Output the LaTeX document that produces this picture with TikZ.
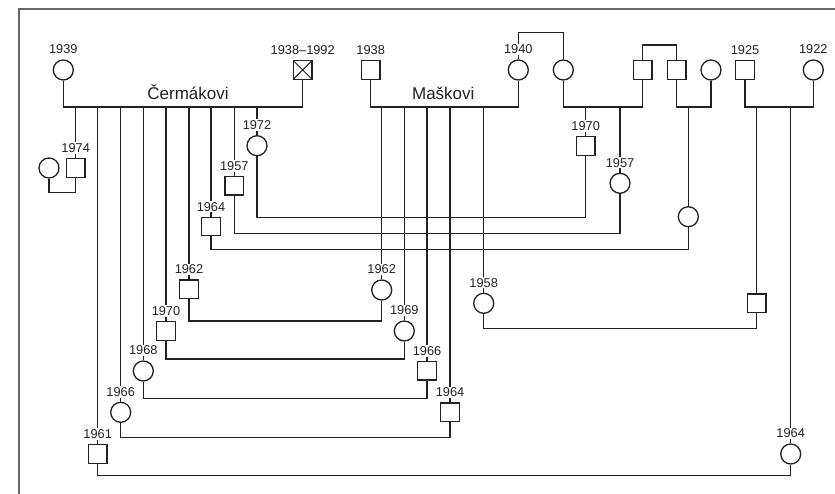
\documentclass[tikz,border=0pt]{standalone}
\usepackage{fontspec}
\setmainfont{Liberation Sans}
\usetikzlibrary{backgrounds}
\definecolor{ink}{HTML}{222222}
\definecolor{framec}{HTML}{666666}
\begin{document}
\begin{tikzpicture}[x=1pt,y=-1pt,line width=1.3pt,
  fem/.style={circle,draw=ink,minimum size=20pt,inner sep=0pt,fill=white},
  mal/.style={rectangle,draw=ink,minimum size=18.5pt,inner sep=0pt,fill=white},
  dead/.style={mal,path picture={\draw[ink,line width=1pt]
      (path picture bounding box.north west) -- (path picture bounding box.south east)
      (path picture bounding box.south west) -- (path picture bounding box.north east);}},
  yr/.style={font=\fontsize{12.8}{14}\selectfont,text=ink,fill=white,inner sep=1.2pt},
  every label/.style={yr}, label distance=3.5pt,
  fam/.style={font=\fontsize{17}{20}\selectfont,text=ink,inner sep=0pt,anchor=base},
  conn/.style={draw=ink,line width=1.3pt},
  framel/.style={draw=framec,line width=1.8pt}]
\useasboundingbox (0,0) rectangle (835,494);
\draw[framel] (19,494) -- (19,9) -- (835,9);

% level coordinates
\coordinate (m0) at (0,107);
\coordinate (t1) at (0,32.7);
\coordinate (t2) at (0,45);
\coordinate (k1974) at (0,192.7);
\coordinate (k1) at (0,217.7);
\coordinate (k2) at (0,233.3);
\coordinate (k3) at (0,249.3);
\coordinate (k4) at (0,321);
\coordinate (k5) at (0,328.3);
\coordinate (k6) at (0,359);
\coordinate (k7) at (0,398.3);
\coordinate (k8) at (0,437.7);
\coordinate (k9) at (0,475.7);

% top generation
\node[fem,label=above:1939] (c1939) at (63.3,70) {};
\node[dead,label=above:1938–1992] (sX) at (302.7,70) {};
\node[mal,label=above:1938] (s1938) at (370.7,70) {};
\node[fem,label=above:1940] (c1940) at (518.3,70) {};
\node[fem] (cSis) at (563.3,70) {};
\node[mal] (sB1) at (642.7,70) {};
\node[mal] (sB2) at (676.7,70) {};
\node[fem] (cW) at (711,70) {};
\node[mal,label=above:1925] (s1925) at (745,70) {};
\node[fem,label=above:1922] (c1922) at (813.3,70) {};

\node[fam] (tC) at (188,99.3) {Čermákovi};
\node[fam] (tM) at (443.3,99.3) {Maškovi};

% Čermákovi children
\node[mal,label=above:1974] (s1974) at (75.7,168) {};
\node[fem] (w1974) at (49,168) {};
\node[fem,label=above:1972] (c1972) at (257,145.7) {};
\node[mal,label=above:1957] (s1957) at (234.3,185.8) {};
\node[mal,label=above:1964] (s1964) at (211,226.5) {};
\node[mal,label=above:1962] (s1962) at (189,289.3) {};
\node[mal,label=above:1970] (s1970) at (166,331) {};
\node[fem,label=above:1968] (c1968) at (143.3,371) {};
\node[fem,label=above:1966] (c1966) at (120.7,412.3) {};
\node[mal,label=above:1961] (s1961) at (97.7,454) {};

% Maškovi children
\node[fem,label=above:1962] (c1962) at (381.7,290) {};
\node[fem,label=above:1969] (c1969) at (404.3,331) {};
\node[mal,label=above:1966] (s1966) at (427,370.7) {};
\node[mal,label=above:1964] (s1964m) at (450,412.3) {};
\node[fem,label=above:1958] (c1958) at (483.7,303.3) {};

% other children
\node[mal,label=above:1970] (s1970r) at (585.7,146) {};
\node[fem,label=above:1957] (c1957r) at (620,183.3) {};
\node[fem] (cR) at (688.3,216.7) {};
\node[mal] (sR) at (756.7,303.3) {};
\node[fem,label=above:1964] (c1964r) at (790.7,454) {};

\begin{scope}[on background layer]
  \fill[white] (0,0) rectangle (835,494);
  % parent couples
  \draw[conn] (c1939.south) -- (c1939.south |- m0) -- (sX.south |- m0) -- (sX.south);
  \draw[conn] (s1938.south) -- (s1938.south |- m0) -- (c1940.south |- m0) -- (c1940.south);
  \draw[conn] (cSis.south) -- (cSis.south |- m0) -- (sB1.south |- m0) -- (sB1.south);
  \draw[conn] (sB2.south) -- (sB2.south |- m0) -- (cW.south |- m0) -- (cW.south);
  \draw[conn] (s1925.south) -- (s1925.south |- m0) -- (c1922.south |- m0) -- (c1922.south);
  % sibling lines
  \draw[conn] (c1940.north) -- (c1940.north |- t1) -- (cSis.north |- t1) -- (cSis.north);
  \draw[conn] (sB1.north) -- (sB1.north |- t2) -- (sB2.north |- t2) -- (sB2.north);
  % descent lines
  \foreach \n in {s1974,s1961,c1966,c1968,s1970,s1962,s1964,s1957,c1972,
                  c1962,c1969,s1966,s1964m,c1958,s1970r,c1957r,cR,sR,c1964r}
    \draw[conn] (\n |- m0) -- (\n.north);
  % marriages of children
  \draw[conn] (s1974.south) -- (s1974.south |- k1974) -| (w1974.south);
  \draw[conn] (c1972.south) -- (c1972.south |- k1) -| (s1970r.south);
  \draw[conn] (s1957.south) -- (s1957.south |- k2) -| (c1957r.south);
  \draw[conn] (s1964.south) -- (s1964.south |- k3) -| (cR.south);
  \draw[conn] (s1962.south) -- (s1962.south |- k4) -| (c1962.south);
  \draw[conn] (c1958.south) -- (c1958.south |- k5) -| (sR.south);
  \draw[conn] (s1970.south) -- (s1970.south |- k6) -| (c1969.south);
  \draw[conn] (c1968.south) -- (c1968.south |- k7) -| (s1966.south);
  \draw[conn] (c1966.south) -- (c1966.south |- k8) -| (s1964m.south);
  \draw[conn] (s1961.south) -- (s1961.south |- k9) -| (c1964r.south);
\end{scope}
\end{tikzpicture}
\end{document}
